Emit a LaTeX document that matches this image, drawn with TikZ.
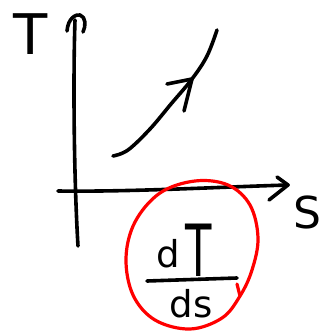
\documentclass[tikz,border=0pt]{standalone}
\usepackage{fontspec}
\setmainfont{DejaVu Sans}
\begin{document}
\begin{tikzpicture}[x=1pt,y=-1pt,
  ink/.style={line width=3.6pt, line cap=round, line join=round, draw=black},
  redink/.style={line width=3.2pt, line cap=round, line join=round, draw=red},
  lbl/.style={inner sep=0pt, outer sep=0pt, anchor=base}]
\useasboundingbox[fill=white] (0,0) rectangle (325,334);
% labels
\node[lbl, font=\fontsize{56}{56}\selectfont] (Tlab) at (31,55) {T};
\node[lbl, font=\fontsize{44}{44}\selectfont] (Slab) at (307,228) {S};
\node[lbl] (num) at (184,276) {\raisebox{9pt}{\fontsize{37}{37}\selectfont d}\hspace{5pt}\scalebox{0.6}[1]{\fontsize{72}{72}\selectfont T}};
\node[lbl, font=\fontsize{37}{37}\selectfont] (den) at (191,317) {ds};
% axes
\coordinate (yb) at (78,246);
\coordinate (yt) at (75,20);
\coordinate (xl) at (58,191);
\coordinate (xr) at (288,185);
\draw[ink] (yb) .. controls (74,180) and (73,80) .. (yt);
\draw[ink] (67,31) .. controls (68,18) and (76,14) .. (80,15) .. controls (86,17) and (86,26) .. (83,32);
\draw[ink] (xl) .. controls (130,192) and (220,187) .. (xr);
\draw[ink] (277,177) -- (xr) -- (269,200);
% curve
\coordinate (ct) at (192,79);
\draw[ink] plot[smooth, tension=0.6] coordinates {(113,156) (128,150) (150,129) (171,104) (ct) (207,56) (217,30)};
\draw[ink] (167,84) -- (ct) -- (184,111);
% fraction bar
\coordinate (fl) at (147,281);
\coordinate (fr) at (237,278);
\draw[ink] (fl) -- (fr);
% red loop
\draw[redink] plot[smooth cycle, tension=0.6] coordinates {(240,296) (222,318) (190,329) (155,320) (133,295) (126,258) (135,222) (160,193) (195,181) (228,185) (250,205) (258,238) (252,270)};
\draw[redink] (237,284) -- (240,296);
\end{tikzpicture}
\end{document}
